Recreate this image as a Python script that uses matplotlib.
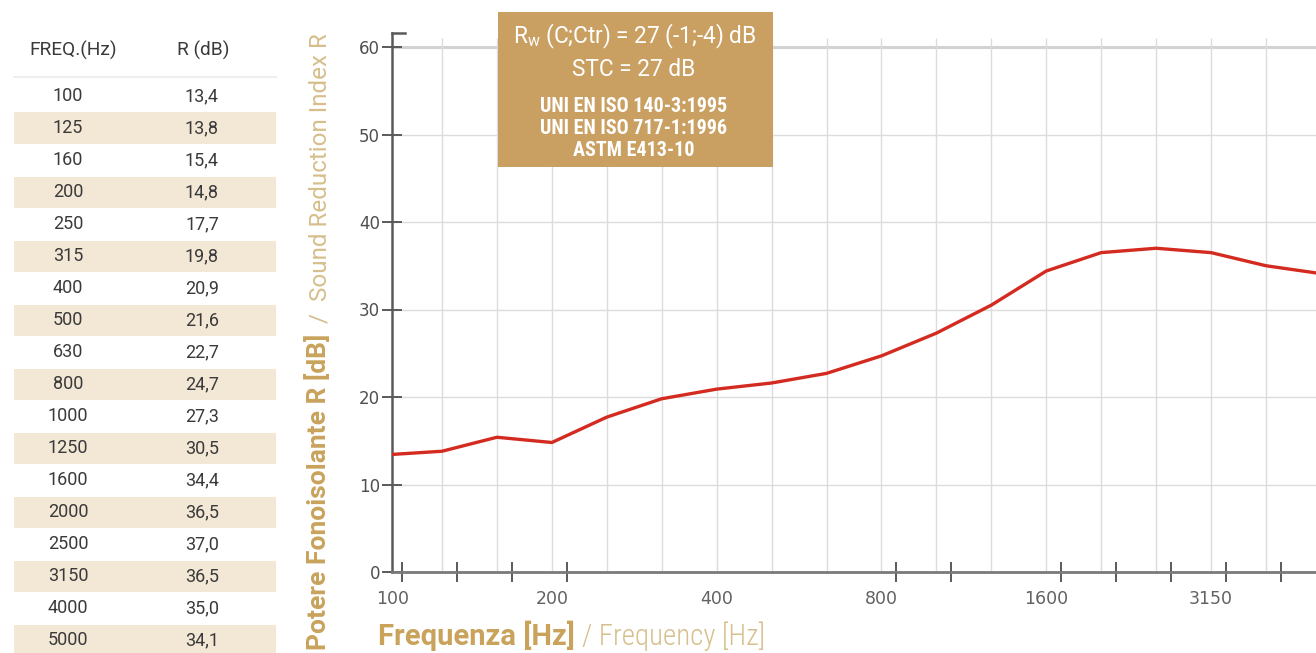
import matplotlib
matplotlib.use("Agg")
import matplotlib.pyplot as plt
from matplotlib import font_manager as fm
from matplotlib.patches import Rectangle
from matplotlib.lines import Line2D

# ---- data -------------------------------------------------------------
freqs = [100, 125, 160, 200, 250, 315, 400, 500, 630, 800,
         1000, 1250, 1600, 2000, 2500, 3150, 4000, 5000]
r_db = [13.4, 13.8, 15.4, 14.8, 17.7, 19.8, 20.9, 21.6, 22.7, 24.7,
        27.3, 30.5, 34.4, 36.5, 37.0, 36.5, 35.0, 34.1]
x_tick_labels = ["100", "200", "400", "800", "1600", "3150"]
x_tick_idx = [0, 3, 6, 9, 12, 15]
x_mark_idx = [0, 1, 2, 3, 9, 10, 12, 13, 14, 15, 16]
y_ticks = [0, 10, 20, 30, 40, 50, 60]
box_lines = [r"R$_\mathregular{w}$ (C;Ctr) = 27 (-1;-4) dB", "STC = 27 dB"]
norm_lines = ["UNI EN ISO 140-3:1995", "UNI EN ISO 717-1:1996", "ASTM E413-10"]

# ---- fonts ------------------------------------------------------------
avail = {f.name for f in fm.fontManager.ttflist}


def pick(*names):
    for n in names:
        if n in avail:
            return n
    return "DejaVu Sans"


SANS = pick("Roboto", "Liberation Sans")
NARROW = pick("Roboto Condensed", "Liberation Sans Narrow", "Roboto")
TICKFONT = "DejaVu Sans"

GOLD = "#c9a35c"
GOLD_LIGHT = "#d6bf8c"
BOX = "#c9a061"
RED = "#d42b20"
GRID = "#dcdcdc"
AXIS = "#5a5a5a"
TXT = "#3a3a3a"

W, H = 1316, 653
fig = plt.figure(figsize=(W / 100, H / 100), dpi=100)
fig.patch.set_facecolor("white")


def fx(px):
    return px / W


def fy(py):
    return 1 - py / H


# ---- chart ------------------------------------------------------------
ax = fig.add_axes([fx(392), fy(572), fx(1316) - fx(392), fy(33) - fy(572)])
ax.set_xlim(0.09, 16.91)
ax.set_ylim(0, 61.6)
ax.set_facecolor("white")

for s in ("top", "right"):
    ax.spines[s].set_visible(False)
ax.spines["left"].set_color(AXIS)
ax.spines["left"].set_linewidth(1.8)
ax.spines["bottom"].set_color("#7a7a7a")
ax.spines["bottom"].set_linewidth(2.0)

# grid
for v in y_ticks[1:-1]:
    ax.axhline(v, color=GRID, lw=1.0, zorder=1)
ax.axhline(60, color="#d2d2d2", lw=2.2, zorder=1)
ax.vlines(range(1, len(freqs)), 0, 61.0, color=GRID, lw=1.0, zorder=1)

# small stub at the top of the y axis
ax.add_line(Line2D([0, 0.0145], [1, 1], transform=ax.transAxes,
                   color=AXIS, lw=1.8, clip_on=False))

# y ticks
ax.set_yticks(y_ticks)
ax.tick_params(axis="y", direction="inout", length=14, width=1.4,
               color=AXIS, labelcolor="#4f4f4f", pad=1.5, labelsize=12)
for lab in ax.get_yticklabels():
    lab.set_family(TICKFONT)

# x labels at band positions, tick marks drawn separately
ax.set_xticks([i if i else 0.11 for i in x_tick_idx])
ax.set_xticklabels(x_tick_labels)
ax.tick_params(axis="x", which="major", length=0, pad=13,
               labelcolor="#626262", labelsize=12.5)
for lab in ax.get_xticklabels():
    lab.set_family(TICKFONT)
ax.set_xticks([i + 0.27 for i in x_mark_idx], minor=True)
ax.tick_params(axis="x", which="minor", direction="inout", length=14,
               width=1.4, color=AXIS)

ax.plot(range(len(freqs)), r_db, color=RED, lw=2.4, zorder=3,
        solid_joinstyle="round", solid_capstyle="butt")

# ---- rating box ---------------------------------------------------------
fig.add_artist(Rectangle((fx(498), fy(167)), fx(773) - fx(498), fy(12) - fy(167),
                         transform=fig.transFigure, facecolor=BOX,
                         edgecolor="none", zorder=5))
fig.text(fx(635), fy(36), box_lines[0], ha="center", va="center",
         color="white", fontsize=16.3, family=SANS, zorder=6)
fig.text(fx(634), fy(70), box_lines[1], ha="center", va="center",
         color="white", fontsize=16.3, family=SANS, zorder=6)
for k, line in enumerate(norm_lines):
    fig.text(fx(634), fy(107 + 22 * k), line, ha="center", va="center",
             color="white", fontsize=14.5, fontweight="bold", family=NARROW,
             zorder=6)

# ---- data table -------------------------------------------------------
fig.text(fx(73), fy(50), "FREQ.(Hz)", ha="center", va="center",
         color=TXT, fontsize=13.8, family=SANS)
fig.text(fx(203), fy(50), "R (dB)", ha="center", va="center",
         color=TXT, fontsize=13.8, family=SANS)
fig.add_artist(Line2D([fx(14), fx(276)], [fy(77), fy(77)],
                      transform=fig.transFigure, color="#efefef", lw=1.5))
row_h = 32.0
for i, (f, r) in enumerate(zip(freqs, r_db)):
    yc = 96 + row_h * i
    if i % 2 == 1:
        fig.add_artist(Rectangle((fx(14), fy(yc + 15.5)), fx(276) - fx(14),
                                 fy(yc - 15.5) - fy(yc + 15.5),
                                 transform=fig.transFigure,
                                 facecolor="#f3e7d5", edgecolor="none", zorder=0))
    fig.text(fx(68), fy(yc), str(f), ha="center", va="center",
             color=TXT, fontsize=13, family=SANS)
    fig.text(fx(202), fy(yc), f"{r:.1f}".replace(".", ","), ha="center",
             va="center", color=TXT, fontsize=13, family=SANS)

# ---- axis titles --------------------------------------------------------
renderer = fig.canvas.get_renderer()

yl_bold = fig.text(fx(326), fy(650), "Potere Fonoisolante R [dB]", rotation=90,
                   rotation_mode="anchor", ha="left", va="baseline",
                   color=GOLD, fontsize=19.0, fontweight="bold", family=SANS)
bb = yl_bold.get_window_extent(renderer=renderer)
fig.text(fx(326), bb.y1 / H + 11 / H, "/  Sound Reduction Index R", rotation=90,
         rotation_mode="anchor", ha="left", va="baseline",
         color=GOLD_LIGHT, fontsize=17.4, fontweight="normal", family=SANS)

xl_bold = fig.text(fx(378), fy(645), "Frequenza [Hz]", ha="left", va="baseline",
                   color=GOLD, fontsize=21, fontweight="bold", family=SANS)
bb = xl_bold.get_window_extent(renderer=renderer)
fig.text(bb.x1 / W + 7 / W, fy(645), "/ Frequency [Hz]", ha="left",
         va="baseline", color=GOLD_LIGHT, fontsize=20.8, fontweight="light",
         family=NARROW)

fig.savefig("out.png", dpi=100, facecolor="white")
